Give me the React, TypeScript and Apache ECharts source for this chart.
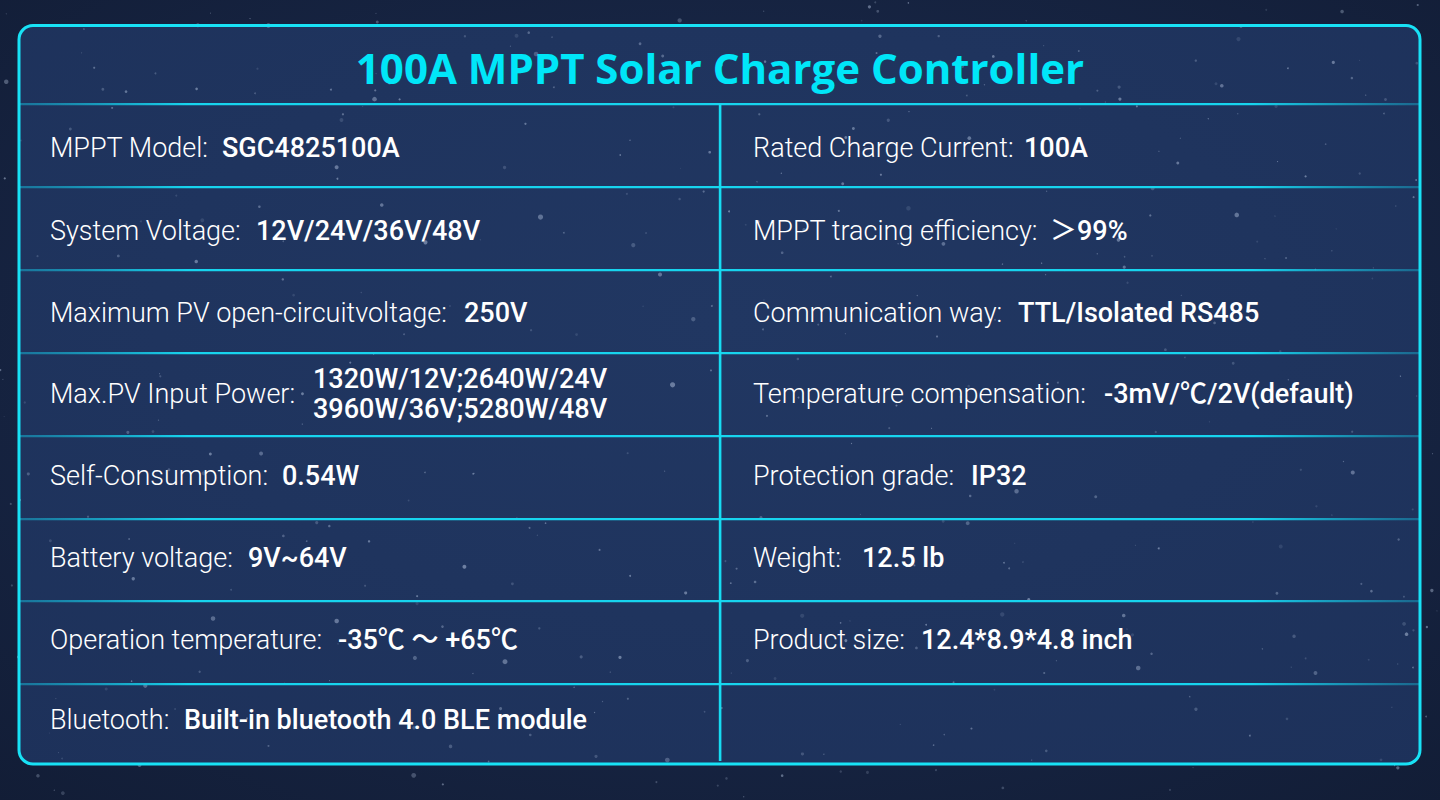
import React, { useEffect, useRef } from "react";
import * as echarts from "echarts";

const title = "100A MPPT Solar Charge Controller";

const leftLabels = [
  "MPPT Model:",
  "System Voltage:",
  "Maximum PV open-circuitvoltage:",
  "Max.PV Input Power:",
  "Self-Consumption:",
  "Battery voltage:",
  "Operation temperature:",
  "Bluetooth:",
];
const leftValues = [
  "SGC4825100A",
  "12V/24V/36V/48V",
  "250V",
  "1320W/12V;2640W/24V\n3960W/36V;5280W/48V",
  "0.54W",
  "9V~64V",
  "-35℃ ～ +65℃",
  "Built-in bluetooth 4.0 BLE module",
];
const rightLabels = [
  "Rated Charge Current:",
  "MPPT tracing efficiency:",
  "Communication way:",
  "Temperature compensation:",
  "Protection grade:",
  "Weight:",
  "Product size:",
  "",
];
const rightValues = [
  "100A",
  "＞99%",
  "TTL/Isolated RS485",
  "-3mV/℃/2V(default)",
  "IP32",
  "12.5 lb",
  "12.4*8.9*4.8 inch",
  "",
];

// layout (pixels)
const leftValueX = [222, 256, 464, 313, 282, 248, 338, 184];
const rightValueX = [1024, 1050, 1018, 1104, 971, 862, 921, 0];
const rowLines = [104, 187, 270, 353, 436, 519, 601, 684];
const rowTextY = [148, 231, 313, 394, 476, 558, 640, 720];

const FONT = "Roboto, 'Noto Sans CJK SC', sans-serif";

function makeStars() {
  let s = 12345;
  const rnd = () => {
    s = (s * 1103515245 + 12345) % 2147483648;
    return s / 2147483648;
  };
  const out: any[] = [];
  for (let i = 0; i < 520; i++) {
    const x = rnd() * 1440;
    const y = rnd() * 800;
    const r = 0.5 + rnd() * rnd() * 2.2;
    const o = 0.12 + rnd() * 0.35;
    out.push({
      type: "circle",
      silent: true,
      shape: { cx: x, cy: y, r },
      style: { fill: `rgba(200,215,240,${o.toFixed(2)})` },
    });
  }
  return out;
}

export default function App() {
  const ref = useRef<HTMLDivElement>(null);
  useEffect(() => {
    const chart = echarts.init(ref.current!, null, { renderer: "svg" });
    const g: any[] = [];
    g.push({
      type: "rect",
      shape: { x: 0, y: 0, width: 1440, height: 800 },
      style: {
        fill: new echarts.graphic.RadialGradient(0.5, 0.45, 0.75, [
          { offset: 0, color: "#1c2d52" },
          { offset: 1, color: "#121d36" },
        ]),
      },
      silent: true,
    });
    g.push({
      type: "rect",
      shape: { x: 19, y: 25.5, width: 1401, height: 738.5, r: 14 },
      style: {
        fill: new echarts.graphic.RadialGradient(0.5, 0.4, 0.8, [
          { offset: 0, color: "#213762" },
          { offset: 1, color: "#1d315a" },
        ]),
        stroke: "none",
      },
      silent: true,
    });
    makeStars().forEach((s) => g.push(s));
    rowLines.forEach((y) => {
      g.push({
        type: "rect",
        shape: { x: 20, y: y - 1, width: 1400, height: 2.2 },
        style: {
          fill: new echarts.graphic.LinearGradient(0, 0, 1, 0, [
            { offset: 0, color: "rgba(22,170,205,0.55)" },
            { offset: 0.12, color: "#17d4ee" },
            { offset: 0.88, color: "#17d4ee" },
            { offset: 1, color: "rgba(22,170,205,0.45)" },
          ]),
        },
        silent: true,
      });
    });
    g.push({
      type: "rect",
      shape: { x: 718.8, y: 104, width: 2.6, height: 657 },
      style: { fill: "#16dcf2" },
      silent: true,
    });
    g.push({
      type: "rect",
      shape: { x: 19, y: 25.5, width: 1401, height: 738.5, r: 14 },
      style: { fill: "none", stroke: "#18e2f6", lineWidth: 3 },
      silent: true,
    });
    g.push({
      type: "text",
      x: 720,
      y: 67,
      style: {
        text: title,
        fill: "#00e6f8",
        font: "700 42px 'Open Sans', 'Noto Sans', sans-serif",
        align: "center",
        verticalAlign: "middle",
      },
    });
    const addRow = (i: number, lx: number, label: string, vx: number, value: string) => {
      const cy = rowTextY[i];
      if (label) {
        g.push({
          type: "text",
          x: lx,
          y: cy,
          style: {
            text: label,
            fill: "#ffffff",
            fontFamily: FONT,
            fontWeight: 300,
            fontSize: 27,
            align: "left",
            verticalAlign: "middle",
          },
        });
      }
      if (value) {
        const multi = value.indexOf("\n") >= 0;
        g.push({
          type: "text",
          x: vx,
          y: cy,
          style: {
            text: value,
            fill: "#ffffff",
            fontFamily: FONT,
            fontWeight: 500,
            fontSize: 27,
            lineHeight: multi ? 30 : undefined,
            align: "left",
            verticalAlign: "middle",
          },
        });
      }
    };
    leftLabels.forEach((l, i) => addRow(i, 50, l, leftValueX[i], leftValues[i]));
    rightLabels.forEach((l, i) => addRow(i, 753, l, rightValueX[i], rightValues[i]));

    chart.setOption({
      animation: false,
      backgroundColor: "#131e38",
      graphic: { elements: g },
    });
    return () => chart.dispose();
  }, []);
  return (
    <div
      ref={ref}
      style={{ position: "fixed", left: 0, top: 0, width: 1440, height: 800 }}
    />
  );
}
